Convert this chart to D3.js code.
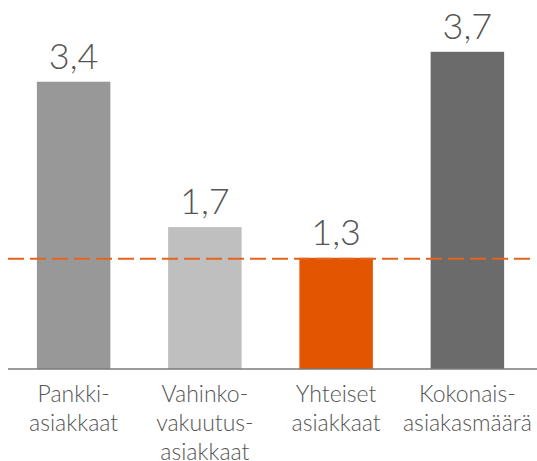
<!DOCTYPE html>
<html>
<head>
<meta charset="utf-8">
<script src="https://cdn.jsdelivr.net/npm/d3@7"></script>
<style>
    body { margin: 0; background: #fff; }
    svg { display: block; }
    .value-label { font-family: "Lato", "Roboto", sans-serif; font-weight: 300; font-size: 36px; fill: #555; }
    .cat-label { font-family: "Lato", "Roboto", sans-serif; font-weight: 300; font-size: 23px; fill: #555; }
</style>
</head>
<body>
<svg id="chart" width="537" height="461"></svg>
<script>
// data
var categories = ["Pankki-asiakkaat", "Vahinko-vakuutus-asiakkaat", "Yhteiset asiakkaat", "Kokonais-asiakasmäärä"];
var label_lines = [["Pankki-", "asiakkaat"], ["Vahinko-", "vakuutus-", "asiakkaat"], ["Yhteiset", "asiakkaat"], ["Kokonais-", "asiakasmäärä"]];
var values = [3.36, 1.66, 1.30, 3.71];
var bar_colors = ["#989898", "#bfbfbf", "#e35500", "#6b6b6b"];
var reference_value = 1.29;

var width = 537, height = 461;
var baseline = 369;

var svg = d3.select("#chart");

var x = d3.scaleBand()
    .domain(categories)
    .range([8, 533])
    .paddingInner(0.44)
    .paddingOuter(0.22);

var y = d3.scaleLinear()
    .domain([0, 4])
    .range([baseline, baseline - 4 * 85.5]);

var fmt = function(v){ return d3.format(".1f")(v).replace(".", ","); };

// bars
svg.selectAll(".bar")
    .data(values)
    .enter()
    .append("rect")
    .attr("class", "bar")
    .attr("x", (d, i) => x(categories[i]))
    .attr("y", d => y(d))
    .attr("width", x.bandwidth())
    .attr("height", d => y(0) - y(d))
    .attr("fill", (d, i) => bar_colors[i]);

// value labels
svg.selectAll(".value-label")
    .data(values)
    .enter()
    .append("text")
    .attr("class", "value-label")
    .attr("x", (d, i) => x(categories[i]) + x.bandwidth() / 2)
    .attr("y", d => y(d) - 13)
    .attr("text-anchor", "middle")
    .text(d => fmt(d));

// baseline axis
svg.append("g")
    .attr("transform", "translate(0," + baseline + ")")
    .call(d3.axisBottom(x).tickSize(0).tickFormat(""))
    .call(g => g.select(".domain").attr("stroke", "#7a7a7a").attr("stroke-width", 1.5).attr("d", "M8,0H537"));

// reference dashed line
svg.append("line")
    .attr("x1", 8)
    .attr("x2", 530)
    .attr("y1", y(reference_value))
    .attr("y2", y(reference_value))
    .attr("stroke", "#e2641e")
    .attr("stroke-width", 2)
    .attr("stroke-dasharray", "16,6");

// category labels
categories.forEach((c, i) => {
    var t = svg.append("text")
        .attr("class", "cat-label")
        .attr("text-anchor", "middle")
        .attr("x", x(c) + x.bandwidth() / 2)
        .attr("y", 402);
    label_lines[i].forEach((line, j) => {
        t.append("tspan")
            .attr("x", x(c) + x.bandwidth() / 2)
            .attr("dy", j == 0 ? 0 : 29)
            .text(line);
    });
});
</script>
</body>
</html>
